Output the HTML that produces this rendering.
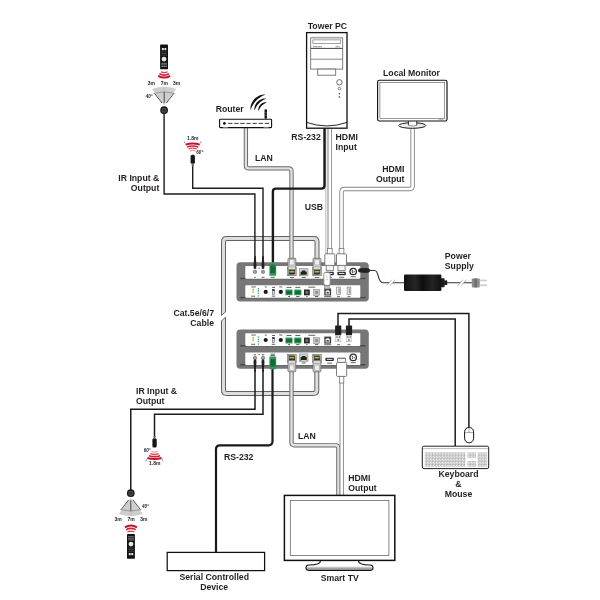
<!DOCTYPE html>
<html><head><meta charset="utf-8"><title>Connection Diagram</title>
<style>
html,body{margin:0;padding:0;background:#fff;}
body{width:600px;height:600px;overflow:hidden;}
svg{display:block;will-change:transform;}
svg text{font-family:"Liberation Sans",sans-serif;font-weight:bold;fill:#231f20;}
</style></head><body>
<svg width="600" height="600" viewBox="0 0 600 600">
<rect width="600" height="600" fill="#fff"/>
<path d="M317.00,264.00 L317.00,241.70 Q317.00,238.50 313.80,238.50 L226.70,238.50 Q223.50,238.50 223.50,241.70 L223.50,390.30 Q223.50,393.50 226.70,393.50 L313.60,393.50 Q316.80,393.50 316.80,390.30 L316.80,368.00" fill="none" stroke="#626262" stroke-width="5.00"/>
<path d="M317.00,264.00 L317.00,241.70 Q317.00,238.50 313.80,238.50 L226.70,238.50 Q223.50,238.50 223.50,241.70 L223.50,390.30 Q223.50,393.50 226.70,393.50 L313.60,393.50 Q316.80,393.50 316.80,390.30 L316.80,368.00" fill="none" stroke="#dedede" stroke-width="3.00"/>
<path d="M219.5,316.9 L228,309.7 L228,315.3 L219.5,322.5 Z" fill="#fff"/>
<path d="M221.2,315.5 L225.9,311.5 M221.2,321.1 L225.9,317.1" stroke="#626262" stroke-width="0.9" fill="none"/>
<path d="M245.90,127.00 L245.90,165.40 Q245.90,168.40 248.90,168.40 L288.50,168.40 Q291.50,168.40 291.50,171.40 L291.50,262.00" fill="none" stroke="#666" stroke-width="4.30"/>
<path d="M245.90,127.00 L245.90,165.40 Q245.90,168.40 248.90,168.40 L288.50,168.40 Q291.50,168.40 291.50,171.40 L291.50,262.00" fill="none" stroke="#e0e0e0" stroke-width="2.40"/>
<path d="M412.60,127.00 L412.60,186.00 Q412.60,189.00 409.60,189.00 L344.50,189.00 Q341.50,189.00 341.50,192.00 L341.50,252.00" fill="none" stroke="#848484" stroke-width="4.40"/>
<path d="M412.60,127.00 L412.60,186.00 Q412.60,189.00 409.60,189.00 L344.50,189.00 Q341.50,189.00 341.50,192.00 L341.50,252.00" fill="none" stroke="#fff" stroke-width="2.60"/>
<path d="M326.90,128.00 L326.90,274.00" fill="none" stroke="#a4a4a4" stroke-width="2.90"/>
<path d="M326.90,128.00 L326.90,274.00" fill="none" stroke="#fff" stroke-width="1.30"/>
<path d="M329.80,128.00 L329.80,252.00" fill="none" stroke="#8c8c8c" stroke-width="4.20"/>
<path d="M329.80,128.00 L329.80,252.00" fill="none" stroke="#fff" stroke-width="2.50"/>
<path d="M324.50,128.00 L324.50,185.60 Q324.50,188.60 321.50,188.60 L275.90,188.60 Q272.90,188.60 272.90,191.60 L272.90,266.00" fill="none" stroke="#1a1a1a" stroke-width="2.40" />
<path d="M164.10,112.00 L164.10,194.00 L254.90,194.00 L254.90,268.00" fill="none" stroke="#1c1c1c" stroke-width="1.40" />
<path d="M192.70,165.00 L192.70,188.30 L263.00,188.30 L263.00,268.00" fill="none" stroke="#1c1c1c" stroke-width="1.40" />
<path d="M255.00,370.00 L255.00,409.30 L130.75,409.30 L130.75,491.00" fill="none" stroke="#1c1c1c" stroke-width="1.50" />
<path d="M263.00,370.00 L263.00,414.30 L154.50,414.30 L154.50,437.00" fill="none" stroke="#1c1c1c" stroke-width="1.50" />
<path d="M272.50,368.00 L272.50,441.30 Q272.50,445.30 268.50,445.30 L220.00,445.30 Q216.00,445.30 216.00,449.30 L216.00,552.00" fill="none" stroke="#1a1a1a" stroke-width="2.20" />
<path d="M291.50,370.00 L291.50,442.30 Q291.50,445.30 294.50,445.30 L335.40,445.30 Q338.40,445.30 338.40,448.30 L338.40,495.00" fill="none" stroke="#666" stroke-width="4.30"/>
<path d="M291.50,370.00 L291.50,442.30 Q291.50,445.30 294.50,445.30 L335.40,445.30 Q338.40,445.30 338.40,448.30 L338.40,495.00" fill="none" stroke="#e0e0e0" stroke-width="2.40"/>
<path d="M341.70,380.00 L341.70,495.00" fill="none" stroke="#848484" stroke-width="4.30"/>
<path d="M341.70,380.00 L341.70,495.00" fill="none" stroke="#fff" stroke-width="2.50"/>
<path d="M338.00,327.00 L338.00,313.50 L468.90,313.50 L468.90,428.00" fill="none" stroke="#1c1c1c" stroke-width="1.50" />
<path d="M349.00,327.00 L349.00,318.90 L455.20,318.90 L455.20,446.00" fill="none" stroke="#1c1c1c" stroke-width="1.50" />
<rect x="236.50" y="262.30" width="132.30" height="39.30" rx="3.8" fill="#777"/>
<rect x="240.2" y="278.30" width="125" height="1.3" fill="#686868"/>
<rect x="240.2" y="277.80" width="5.4" height="1.2" fill="#474747"/><rect x="360" y="277.80" width="5.4" height="1.2" fill="#474747"/>
<rect x="245.3" y="266.10" width="115" height="12.60" rx="0.8" fill="#fff"/>
<rect x="240.2" y="297.40" width="125" height="1.3" fill="#686868"/>
<rect x="240.2" y="296.90" width="5.4" height="1.2" fill="#474747"/><rect x="360" y="296.90" width="5.4" height="1.2" fill="#474747"/>
<rect x="245.3" y="285.20" width="115" height="12.60" rx="0.8" fill="#fff"/>
<circle cx="255.00" cy="271.80" r="1.7" fill="#bdbdbd" stroke="#555" stroke-width="0.6"/>
<circle cx="255.00" cy="271.80" r="0.6" fill="#555"/>
<circle cx="263.00" cy="271.80" r="1.7" fill="#bdbdbd" stroke="#555" stroke-width="0.6"/>
<circle cx="263.00" cy="271.80" r="0.6" fill="#555"/>
<rect x="254.20" y="276.80" width="1.60" height="0.9" fill="#555"/>
<rect x="261.50" y="276.80" width="3.00" height="0.9" fill="#555"/>
<rect x="270.50" y="276.80" width="4.40" height="0.9" fill="#555"/>
<rect x="258.6" y="267.80" width="1" height="1" fill="#333"/>
<rect x="253.80" y="267.90" width="2.40" height="0.9" fill="#555"/>
<rect x="261.80" y="267.90" width="2.40" height="0.9" fill="#555"/>
<rect x="299.40" y="268.50" width="8.60" height="7.40" fill="#cfcfcf" stroke="#777" stroke-width="0.5"/>
<path d="M300.60,274.70 h6.20 v-3 h-1.3 v-1.2 h-3.60 v1.2 h-1.3 z" fill="#222"/>
<rect x="306.20" y="274.40" width="1.3" height="1" fill="#d8a400"/>
<rect x="299.90" y="274.40" width="1.3" height="1" fill="#3a9a5c"/>
<rect x="301.70" y="277.10" width="4.00" height="0.9" fill="#555"/>
<rect x="290.00" y="277.10" width="4.00" height="0.9" fill="#555"/>
<rect x="314.70" y="277.10" width="4.60" height="0.9" fill="#555"/>
<rect x="325.40" y="271.80" width="8.4" height="3.4" rx="0.8" fill="#2a2a2a"/>
<rect x="326.80" y="272.90" width="5.6" height="1.1" fill="#ddd"/>
<rect x="327.10" y="276.80" width="5.00" height="0.9" fill="#555"/>
<rect x="337.40" y="271.80" width="8.4" height="3.4" rx="0.8" fill="#2a2a2a"/>
<rect x="338.80" y="272.90" width="5.6" height="1.1" fill="#ddd"/>
<rect x="339.10" y="276.80" width="5.00" height="0.9" fill="#555"/>
<circle cx="353.2" cy="271.50" r="3.2" fill="#fff" stroke="#2a2a2a" stroke-width="1.3"/>
<circle cx="352.4" cy="270.90" r="0.8" fill="#333"/>
<circle cx="354.2" cy="271.70" r="0.6" fill="#333"/>
<circle cx="352.6" cy="272.70" r="0.6" fill="#333"/>
<rect x="350.70" y="276.30" width="5.00" height="0.9" fill="#555"/>
<rect x="251.25" y="286.50" width="4.50" height="0.9" fill="#555"/>
<rect x="264.80" y="286.50" width="2.00" height="0.9" fill="#555"/>
<rect x="272.00" y="286.90" width="3.00" height="0.9" fill="#555"/>
<rect x="279.30" y="286.50" width="3.00" height="0.9" fill="#555"/>
<circle cx="253.2" cy="289.70" r="0.9" fill="#9db83a"/>
<circle cx="253.2" cy="292.10" r="0.9" fill="#d8b52a"/>
<circle cx="258.4" cy="288.90" r="0.8" fill="#2fa58a"/>
<circle cx="258.4" cy="291.10" r="0.8" fill="#2fa58a"/>
<circle cx="258.4" cy="293.30" r="0.8" fill="#2fa58a"/>
<rect x="251.20" y="295.70" width="4.00" height="0.9" fill="#555"/>
<rect x="257.80" y="295.50" width="1.20" height="0.9" fill="#555"/>
<circle cx="265.7" cy="291.90" r="2.1" fill="#1b1b1b"/>
<rect x="272.4" y="289.30" width="2.2" height="5.2" fill="#ddd" stroke="#444" stroke-width="0.5"/>
<rect x="272.4" y="289.30" width="2.2" height="1.6" fill="#333"/>
<rect x="271.80" y="295.70" width="3.40" height="0.9" fill="#555"/>
<circle cx="280.8" cy="291.90" r="2.1" fill="#1b1b1b"/>
<rect x="285.40" y="289.50" width="7.20" height="5.80" rx="0.6" fill="#2f9a58"/>
<rect x="286.30" y="290.78" width="5.40" height="3.25" fill="#17683a"/>
<rect x="294.20" y="289.50" width="7.20" height="5.80" rx="0.6" fill="#2f9a58"/>
<rect x="295.10" y="290.78" width="5.40" height="3.25" fill="#17683a"/>
<rect x="286.50" y="286.90" width="5.00" height="0.9" fill="#555"/>
<rect x="295.30" y="286.90" width="5.00" height="0.9" fill="#555"/>
<rect x="288.00" y="296.10" width="2.00" height="0.9" fill="#555"/>
<rect x="296.10" y="296.10" width="3.40" height="0.9" fill="#555"/>
<rect x="304" y="289.50" width="5.8" height="5.8" fill="#2a2a2a"/>
<rect x="305.6" y="291.10" width="2.6" height="2.6" fill="#777"/>
<rect x="313.6" y="289.50" width="6" height="5.8" fill="#c8c8c8" stroke="#777" stroke-width="0.5"/>
<rect x="315.3" y="291.10" width="2.6" height="2.6" fill="#8a8a8a"/>
<rect x="308.30" y="286.70" width="7.00" height="0.9" fill="#555"/>
<rect x="306.20" y="296.10" width="1.40" height="0.9" fill="#555"/>
<rect x="314.90" y="296.10" width="3.40" height="0.9" fill="#555"/>
<rect x="324.3" y="288.50" width="6.8" height="7" fill="#3a3a3a"/>
<path d="M325.6,294.50 h4.2 v-3.4 l-0.9,-0.9 h-2.4 l-0.9,0.9 z" fill="#e8e8e8"/>
<rect x="326.6" y="291.90" width="2.2" height="1.6" fill="#444"/>
<rect x="324.20" y="296.20" width="7.00" height="0.9" fill="#555"/>
<rect x="336.70" y="287.10" width="3.8" height="7.4" fill="#ececec" stroke="#777" stroke-width="0.6"/>
<rect x="338.40" y="288.30" width="1.3" height="5" fill="#9a9a9a"/>
<rect x="337.10" y="296.20" width="3.00" height="0.9" fill="#555"/>
<rect x="347.10" y="287.10" width="3.8" height="7.4" fill="#ececec" stroke="#777" stroke-width="0.6"/>
<rect x="348.80" y="288.30" width="1.3" height="5" fill="#9a9a9a"/>
<rect x="347.50" y="296.20" width="3.00" height="0.9" fill="#555"/>
<rect x="236.50" y="329.50" width="132.30" height="39.30" rx="3.8" fill="#777"/>
<rect x="240.2" y="345.50" width="125" height="1.3" fill="#686868"/>
<rect x="240.2" y="345.00" width="5.4" height="1.2" fill="#474747"/><rect x="360" y="345.00" width="5.4" height="1.2" fill="#474747"/>
<rect x="245.3" y="333.30" width="115" height="12.60" rx="0.8" fill="#fff"/>
<rect x="240.2" y="364.60" width="125" height="1.3" fill="#686868"/>
<rect x="240.2" y="364.10" width="5.4" height="1.2" fill="#474747"/><rect x="360" y="364.10" width="5.4" height="1.2" fill="#474747"/>
<rect x="245.3" y="352.40" width="115" height="12.60" rx="0.8" fill="#fff"/>
<rect x="251.25" y="334.60" width="4.50" height="0.9" fill="#555"/>
<rect x="264.80" y="334.60" width="2.00" height="0.9" fill="#555"/>
<rect x="272.00" y="335.00" width="3.00" height="0.9" fill="#555"/>
<rect x="279.30" y="334.60" width="3.00" height="0.9" fill="#555"/>
<circle cx="253.2" cy="337.80" r="0.9" fill="#9db83a"/>
<circle cx="253.2" cy="340.20" r="0.9" fill="#d8b52a"/>
<circle cx="258.4" cy="337.00" r="0.8" fill="#2fa58a"/>
<circle cx="258.4" cy="339.20" r="0.8" fill="#2fa58a"/>
<circle cx="258.4" cy="341.40" r="0.8" fill="#2fa58a"/>
<rect x="251.20" y="343.80" width="4.00" height="0.9" fill="#555"/>
<rect x="257.80" y="343.60" width="1.20" height="0.9" fill="#555"/>
<circle cx="265.7" cy="340.00" r="2.1" fill="#1b1b1b"/>
<rect x="272.4" y="337.40" width="2.2" height="5.2" fill="#ddd" stroke="#444" stroke-width="0.5"/>
<rect x="272.4" y="337.40" width="2.2" height="1.6" fill="#333"/>
<rect x="271.80" y="343.80" width="3.40" height="0.9" fill="#555"/>
<circle cx="280.8" cy="340.00" r="2.1" fill="#1b1b1b"/>
<rect x="285.40" y="337.60" width="7.20" height="5.80" rx="0.6" fill="#2f9a58"/>
<rect x="286.30" y="338.88" width="5.40" height="3.25" fill="#17683a"/>
<rect x="294.20" y="337.60" width="7.20" height="5.80" rx="0.6" fill="#2f9a58"/>
<rect x="295.10" y="338.88" width="5.40" height="3.25" fill="#17683a"/>
<rect x="286.50" y="335.00" width="5.00" height="0.9" fill="#555"/>
<rect x="295.30" y="335.00" width="5.00" height="0.9" fill="#555"/>
<rect x="288.00" y="344.20" width="2.00" height="0.9" fill="#555"/>
<rect x="296.10" y="344.20" width="3.40" height="0.9" fill="#555"/>
<rect x="304" y="337.60" width="5.8" height="5.8" fill="#2a2a2a"/>
<rect x="305.6" y="339.20" width="2.6" height="2.6" fill="#777"/>
<rect x="313.6" y="337.60" width="6" height="5.8" fill="#c8c8c8" stroke="#777" stroke-width="0.5"/>
<rect x="315.3" y="339.20" width="2.6" height="2.6" fill="#8a8a8a"/>
<rect x="308.30" y="334.80" width="7.00" height="0.9" fill="#555"/>
<rect x="306.20" y="344.20" width="1.40" height="0.9" fill="#555"/>
<rect x="314.90" y="344.20" width="3.40" height="0.9" fill="#555"/>
<rect x="324.3" y="336.60" width="6.8" height="7" fill="#3a3a3a"/>
<path d="M325.6,342.60 h4.2 v-3.4 l-0.9,-0.9 h-2.4 l-0.9,0.9 z" fill="#e8e8e8"/>
<rect x="326.6" y="340.00" width="2.2" height="1.6" fill="#444"/>
<rect x="324.20" y="344.30" width="7.00" height="0.9" fill="#555"/>
<rect x="337.10" y="344.30" width="3.00" height="0.9" fill="#555"/>
<rect x="347.50" y="344.30" width="3.00" height="0.9" fill="#555"/>
<circle cx="255.00" cy="357.90" r="1.7" fill="#bdbdbd" stroke="#555" stroke-width="0.6"/>
<circle cx="255.00" cy="357.90" r="0.6" fill="#555"/>
<circle cx="263.00" cy="357.90" r="1.7" fill="#bdbdbd" stroke="#555" stroke-width="0.6"/>
<circle cx="263.00" cy="357.90" r="0.6" fill="#555"/>
<rect x="253.80" y="354.30" width="2.40" height="0.9" fill="#555"/>
<rect x="261.80" y="354.30" width="2.40" height="0.9" fill="#555"/>
<rect x="258.6" y="354.10" width="1" height="1" fill="#333"/>
<rect x="270.50" y="353.70" width="4.40" height="0.9" fill="#555"/>
<rect x="299.40" y="353.90" width="8.60" height="7.40" fill="#cfcfcf" stroke="#777" stroke-width="0.5"/>
<path d="M300.60,360.10 h6.20 v-3 h-1.3 v-1.2 h-3.60 v1.2 h-1.3 z" fill="#222"/>
<rect x="306.20" y="359.80" width="1.3" height="1" fill="#d8a400"/>
<rect x="299.90" y="359.80" width="1.3" height="1" fill="#3a9a5c"/>
<rect x="301.70" y="362.50" width="4.00" height="0.9" fill="#555"/>
<rect x="325.40" y="357.70" width="8.4" height="3.4" rx="0.8" fill="#2a2a2a"/>
<rect x="326.80" y="358.80" width="5.6" height="1.1" fill="#ddd"/>
<rect x="327.10" y="362.70" width="5.00" height="0.9" fill="#555"/>
<rect x="337.40" y="357.70" width="8.4" height="3.4" rx="0.8" fill="#2a2a2a"/>
<rect x="338.80" y="358.80" width="5.6" height="1.1" fill="#ddd"/>
<rect x="339.10" y="362.70" width="5.00" height="0.9" fill="#555"/>
<circle cx="353.2" cy="357.40" r="3.2" fill="#fff" stroke="#2a2a2a" stroke-width="1.3"/>
<circle cx="352.4" cy="356.80" r="0.8" fill="#333"/>
<circle cx="354.2" cy="357.60" r="0.6" fill="#333"/>
<circle cx="352.6" cy="358.60" r="0.6" fill="#333"/>
<rect x="350.70" y="362.20" width="5.00" height="0.9" fill="#555"/>
<path d="M254.30,256 L255.70,256 L256.50,266 L256.10,268.5 L253.90,268.5 L253.50,266 Z" fill="#222"/>
<path d="M262.30,256 L263.70,256 L264.50,266 L264.10,268.5 L261.90,268.5 L261.50,266 Z" fill="#222"/>
<rect x="269.40" y="263.60" width="6.80" height="12.20" rx="0.6" fill="#2f9a58"/>
<rect x="270.30" y="266.28" width="5.00" height="6.83" fill="#17683a"/>
<rect x="270.4" y="264.6" width="4.8" height="1.6" fill="#1f7a40"/>
<rect x="287.60" y="267.50" width="8.6" height="8.2" fill="#b4b4b4" stroke="#6e6e6e" stroke-width="0.6"/>
<rect x="288.80" y="269.90" width="6.2" height="4.6" fill="#2b2b2b"/>
<rect x="289.40" y="270.90" width="5" height="1.7" fill="#c9a93c"/>
<rect x="294.30" y="273.90" width="1.5" height="1.2" fill="#e3c23a"/>
<rect x="288.00" y="273.90" width="1.5" height="1.2" fill="#4aa58a"/>
<rect x="288.00" y="258.30" width="7.8" height="11.4" rx="0.8" fill="#dadada" stroke="#707070" stroke-width="0.9"/>
<rect x="289.70" y="259.60" width="4.4" height="5.4" fill="#efefef" stroke="#8a8a8a" stroke-width="0.5"/>
<path d="M288.70,266.70 h6.4" stroke="#8a8a8a" stroke-width="0.5"/>
<rect x="312.70" y="267.50" width="8.6" height="8.2" fill="#b4b4b4" stroke="#6e6e6e" stroke-width="0.6"/>
<rect x="313.90" y="269.90" width="6.2" height="4.6" fill="#2b2b2b"/>
<rect x="314.50" y="270.90" width="5" height="1.7" fill="#c9a93c"/>
<rect x="319.40" y="273.90" width="1.5" height="1.2" fill="#e3c23a"/>
<rect x="313.10" y="273.90" width="1.5" height="1.2" fill="#4aa58a"/>
<rect x="313.10" y="258.30" width="7.8" height="11.4" rx="0.8" fill="#dadada" stroke="#707070" stroke-width="0.9"/>
<rect x="314.80" y="259.60" width="4.4" height="5.4" fill="#efefef" stroke="#8a8a8a" stroke-width="0.5"/>
<path d="M313.80,266.70 h6.4" stroke="#8a8a8a" stroke-width="0.5"/>
<rect x="327.40" y="248.40" width="4.8" height="6" fill="#fff" stroke="#777" stroke-width="0.8"/>
<rect x="324.80" y="253.80" width="10" height="11.6" rx="1" fill="#fff" stroke="#6e6e6e" stroke-width="0.9"/>
<rect x="326.20" y="265.40" width="7.2" height="5.2" fill="#f4f4f4" stroke="#777" stroke-width="0.8"/>
<rect x="339.10" y="248.40" width="4.8" height="6" fill="#fff" stroke="#777" stroke-width="0.8"/>
<rect x="336.50" y="253.80" width="10" height="11.6" rx="1" fill="#fff" stroke="#6e6e6e" stroke-width="0.9"/>
<rect x="337.90" y="265.40" width="7.2" height="5.2" fill="#f4f4f4" stroke="#777" stroke-width="0.8"/>
<rect x="323.8" y="272.4" width="6.4" height="13" rx="1.8" fill="#fff" stroke="#7a7a7a" stroke-width="0.8"/>
<path d="M327,275 v5 M326,279 l1,1.2 l1,-1.2" stroke="#bbb" stroke-width="0.5" fill="none"/>
<rect x="324.6" y="285.4" width="4.8" height="3.6" fill="#bdbdbd" stroke="#666" stroke-width="0.5"/>
<path d="M358,270.4 Q358,268.6 360,268.3 L366,268 Q369.4,268.2 370.4,270 L370.4,270.9 Q369.4,272.7 366,272.9 L360,272.6 Q358,272.3 358,270.4 Z" fill="#222"/>
<path d="M369,270.5 H374.5 C379.5,270.5 377,282.7 383,282.7 H404 M446,282.7 H472" fill="none" stroke="#333" stroke-width="1.15"/>
<path d="M386.80,285.70 l5,-6 l3.4,0 l-5,6 z" fill="#fff"/>
<path d="M386.80,285.70 l5,-6 M390.20,285.70 l5,-6" stroke="#9a9a9a" stroke-width="0.7" fill="none"/>
<path d="M457.80,285.70 l5,-6 l3.4,0 l-5,6 z" fill="#fff"/>
<path d="M457.80,285.70 l5,-6 M461.20,285.70 l5,-6" stroke="#9a9a9a" stroke-width="0.7" fill="none"/>
<defs><linearGradient id="bk" x1="0" x2="1" y1="0" y2="0"><stop offset="0" stop-color="#111"/><stop offset="0.3" stop-color="#262626"/><stop offset="0.5" stop-color="#0d0d0d"/><stop offset="0.75" stop-color="#242424"/><stop offset="1" stop-color="#111"/></linearGradient></defs>
<rect x="404" y="274.6" width="37.4" height="16.4" rx="1.2" fill="url(#bk)"/>
<rect x="441" y="278.2" width="3.6" height="9" rx="0.8" fill="#1a1a1a"/>
<rect x="444.2" y="280.4" width="3" height="4.6" fill="#1a1a1a"/>
<rect x="471.8" y="278.4" width="8" height="9" rx="0.8" fill="#8c8c8c"/>
<rect x="474.4" y="278.4" width="2.4" height="9" fill="#6e6e6e"/>
<rect x="479.8" y="279.6" width="7.2" height="1.7" fill="#cfcfcf"/>
<rect x="479.8" y="284.4" width="7.2" height="1.7" fill="#cfcfcf"/>
<rect x="335.10" y="325.6" width="6.2" height="9.6" rx="0.6" fill="#1f1f1f"/>
<rect x="335.60" y="335.2" width="5.2" height="6.6" fill="#f2f2f2" stroke="#999" stroke-width="0.4"/>
<rect x="336.40" y="336.4" width="1.2" height="1.2" fill="#333"/><rect x="338.80" y="336.4" width="1.2" height="1.2" fill="#333"/>
<rect x="337.40" y="338.8" width="1.6" height="2.2" fill="#888"/>
<rect x="345.90" y="325.6" width="6.2" height="9.6" rx="0.6" fill="#1f1f1f"/>
<rect x="346.40" y="335.2" width="5.2" height="6.6" fill="#f2f2f2" stroke="#999" stroke-width="0.4"/>
<rect x="347.20" y="336.4" width="1.2" height="1.2" fill="#333"/><rect x="349.60" y="336.4" width="1.2" height="1.2" fill="#333"/>
<rect x="348.20" y="338.8" width="1.6" height="2.2" fill="#888"/>
<path d="M253.90,359.5 L256.10,359.5 L256.50,362 L255.70,372 L254.30,372 L253.50,362 Z" fill="#222"/>
<path d="M261.90,359.5 L264.10,359.5 L264.50,362 L263.70,372 L262.30,372 L261.50,362 Z" fill="#222"/>
<rect x="269.40" y="356.40" width="6.80" height="12.80" rx="0.6" fill="#2f9a58"/>
<rect x="270.30" y="359.22" width="5.00" height="7.17" fill="#17683a"/>
<rect x="270.50" y="355.00" width="4.40" height="0.9" fill="#555"/>
<rect x="287.60" y="354.40" width="8.6" height="8.2" fill="#b4b4b4" stroke="#6e6e6e" stroke-width="0.6"/>
<rect x="288.80" y="355.60" width="6.2" height="4.6" fill="#2b2b2b"/>
<rect x="289.40" y="356.80" width="5" height="1.7" fill="#c9a93c"/>
<rect x="294.30" y="355.00" width="1.5" height="1.2" fill="#e3c23a"/>
<rect x="288.00" y="355.00" width="1.5" height="1.2" fill="#4aa58a"/>
<rect x="288.00" y="360.40" width="7.8" height="11.4" rx="0.8" fill="#dadada" stroke="#707070" stroke-width="0.9"/>
<rect x="289.70" y="365.00" width="4.4" height="5.4" fill="#efefef" stroke="#8a8a8a" stroke-width="0.5"/>
<path d="M288.70,363.40 h6.4" stroke="#8a8a8a" stroke-width="0.5"/>
<rect x="312.70" y="354.40" width="8.6" height="8.2" fill="#b4b4b4" stroke="#6e6e6e" stroke-width="0.6"/>
<rect x="313.90" y="355.60" width="6.2" height="4.6" fill="#2b2b2b"/>
<rect x="314.50" y="356.80" width="5" height="1.7" fill="#c9a93c"/>
<rect x="319.40" y="355.00" width="1.5" height="1.2" fill="#e3c23a"/>
<rect x="313.10" y="355.00" width="1.5" height="1.2" fill="#4aa58a"/>
<rect x="313.10" y="360.40" width="7.8" height="11.4" rx="0.8" fill="#dadada" stroke="#707070" stroke-width="0.9"/>
<rect x="314.80" y="365.00" width="4.4" height="5.4" fill="#efefef" stroke="#8a8a8a" stroke-width="0.5"/>
<path d="M313.80,363.40 h6.4" stroke="#8a8a8a" stroke-width="0.5"/>
<rect x="337.6" y="358.4" width="8" height="4.4" fill="#f4f4f4" stroke="#777" stroke-width="0.8"/>
<rect x="336.5" y="362.4" width="10.2" height="14" rx="1" fill="#fff" stroke="#6e6e6e" stroke-width="0.9"/>
<rect x="339.4" y="376.4" width="4.4" height="6.6" fill="#fff" stroke="#777" stroke-width="0.8"/>
<rect x="306.6" y="32.6" width="40.4" height="95.6" fill="#fff" stroke="#111" stroke-width="1.3"/>
<path d="M306.6,122.4 Q326.8,129.5 347,122.4" fill="none" stroke="#111" stroke-width="0.9"/>
<rect x="310.7" y="37.9" width="32" height="31.2" fill="#fff" stroke="#6a6a6a" stroke-width="0.85"/>
<path d="M310.7,37.2 h32" stroke="#aaa" stroke-width="0.6"/>
<path d="M310.7,48.4 h32" stroke="#3c3c3c" stroke-width="0.95"/>
<path d="M310.7,59.2 h32" stroke="#838383" stroke-width="0.95"/>
<rect x="312.9" y="39.9" width="27.8" height="3.7" fill="#fff" stroke="#777" stroke-width="0.7"/>
<path d="M313.2,46.8 h8.6 M335.6,46.8 h4.6" stroke="#555" stroke-width="0.9" stroke-dasharray="1.1,0.4"/>
<rect x="317.7" y="69.1" width="18" height="6.1" fill="#fff" stroke="#666" stroke-width="0.85"/>
<circle cx="339.4" cy="82.3" r="2.7" fill="#fff" stroke="#333" stroke-width="0.7"/>
<circle cx="339.4" cy="88.6" r="1.3" fill="#fff" stroke="#333" stroke-width="0.6"/>
<circle cx="339.4" cy="93.8" r="0.75" fill="#222"/><circle cx="339.4" cy="97" r="0.75" fill="#222"/>
<ellipse cx="412.3" cy="125.5" rx="13.6" ry="2.8" fill="#ececec" stroke="#1a1a1a" stroke-width="1"/>
<rect x="408.4" y="120" width="8.4" height="5.4" fill="#fff"/>
<path d="M408.4,121 V125.2 M416.8,121 V125.2" stroke="#1a1a1a" stroke-width="0.9"/>
<path d="M408.4,125.4 Q412.6,126.6 416.8,125.4" stroke="#555" stroke-width="0.6" fill="none"/>
<rect x="377.6" y="80.2" width="69.4" height="40.8" rx="1.8" fill="#fff" stroke="#111" stroke-width="1.15"/>
<rect x="379.9" y="82.6" width="64.8" height="35.8" fill="#fff" stroke="#555" stroke-width="0.6"/>
<path d="M438.5,119.6 h5" stroke="#444" stroke-width="0.6" stroke-dasharray="1,0.6"/>
<rect x="219.6" y="119.2" width="52" height="8.4" rx="0.8" fill="#fff" stroke="#111" stroke-width="1.1"/>
<rect x="223" y="127.4" width="5" height="1.2" fill="#bbb"/><rect x="263.6" y="127.4" width="5" height="1.2" fill="#bbb"/>
<circle cx="224.4" cy="123.4" r="1.35" fill="#111"/>
<path d="M228.2,123.4 H270" stroke="#222" stroke-width="0.9" stroke-dasharray="4.2,1.9"/>
<rect x="264.5" y="109.2" width="2.5" height="9.6" rx="0.8" fill="#1a1a1a"/>
<rect x="264.5" y="112.6" width="2.5" height="0.6" fill="#888"/><rect x="264.5" y="115" width="2.5" height="0.6" fill="#888"/>
<path d="M250.40,109.53 L250.41,108.08 L250.58,106.63 L250.90,105.20 L251.37,103.80 L251.99,102.45 L252.75,101.17 L253.63,99.97 L254.63,98.86 L255.72,97.84 L256.91,96.94 L258.18,96.16 L259.51,95.52 L260.90,95.02 L262.33,94.67 L263.77,94.48 L265.22,94.45 L265.27,94.79 L263.97,95.30 L262.72,95.87 L261.52,96.50 L260.37,97.19 L259.27,97.93 L258.22,98.72 L257.21,99.57 L256.27,100.47 L255.38,101.43 L254.55,102.45 L253.77,103.52 L253.06,104.63 L252.39,105.79 L251.78,107.00 L251.23,108.26 L250.74,109.57 Z" fill="#111"/>
<path d="M254.38,110.09 L254.35,108.96 L254.45,107.83 L254.68,106.70 L255.04,105.61 L255.51,104.55 L256.09,103.54 L256.77,102.60 L257.55,101.73 L258.41,100.94 L259.34,100.24 L260.33,99.64 L261.38,99.15 L262.47,98.78 L263.59,98.53 L264.72,98.41 L265.85,98.41 L265.90,98.72 L264.90,99.15 L263.95,99.62 L263.04,100.13 L262.16,100.67 L261.33,101.25 L260.53,101.86 L259.77,102.51 L259.05,103.20 L258.37,103.94 L257.73,104.71 L257.13,105.52 L256.57,106.36 L256.04,107.24 L255.55,108.16 L255.10,109.13 L254.69,110.13 Z" fill="#111"/>
<path d="M258.26,110.63 L258.21,109.82 L258.26,109.00 L258.40,108.18 L258.64,107.39 L258.97,106.62 L259.39,105.88 L259.88,105.20 L260.44,104.57 L261.06,104.00 L261.73,103.49 L262.46,103.07 L263.22,102.72 L264.02,102.47 L264.83,102.31 L265.65,102.25 L266.46,102.29 L266.50,102.55 L265.80,102.89 L265.14,103.25 L264.50,103.63 L263.89,104.03 L263.31,104.45 L262.76,104.89 L262.23,105.35 L261.72,105.83 L261.25,106.35 L260.80,106.88 L260.37,107.45 L259.96,108.03 L259.57,108.65 L259.20,109.29 L258.85,109.96 L258.53,110.67 Z" fill="#111"/>
<rect x="160.10" y="44.40" width="7.9" height="24.9" rx="0.9" fill="#121212"/>
<rect x="161.90" y="48.00" width="1.9" height="2.2" fill="#e2e2e2"/><rect x="164.40" y="48.00" width="1.9" height="2.2" fill="#e2e2e2"/>
<path d="M161.60,51.80 h5" stroke="#555" stroke-width="0.9" stroke-dasharray="1.2,0.7"/>
<path d="M161.60,53.60 h5" stroke="#555" stroke-width="0.9" stroke-dasharray="1.2,0.7"/>
<path d="M161.60,55.30 h5" stroke="#555" stroke-width="0.9" stroke-dasharray="1.2,0.7"/>
<rect x="162.70" y="53.10" width="1" height="0.9" fill="#3a8a5a"/><rect x="164.70" y="53.10" width="1" height="0.9" fill="#a33"/>
<circle cx="164.05" cy="59.10" r="2.45" fill="#e6e6e6"/>
<path d="M161.50,63.30 h5.2" stroke="#b0b0b0" stroke-width="0.95" stroke-dasharray="1.3,0.65"/>
<path d="M161.50,64.90 h5.2" stroke="#b0b0b0" stroke-width="0.95" stroke-dasharray="1.3,0.65"/>
<path d="M161.50,66.50 h5.2" stroke="#b0b0b0" stroke-width="0.95" stroke-dasharray="1.3,0.65"/>
<path d="M160.80,71.80 Q164.20,73.60 167.60,71.80" fill="none" stroke="#dc3a4c" stroke-width="1.30"/>
<path d="M159.50,73.77 Q164.20,76.34 168.90,73.77" fill="none" stroke="#d22238" stroke-width="1.70"/>
<path d="M158.20,75.90 Q164.20,79.30 170.20,75.90" fill="none" stroke="#c4102a" stroke-width="2.00"/>
<path d="M164.20,105.20 L152.10,88.90 Q164.20,84.80 176.30,88.90 Z" fill="#cecece"/>
<path d="M162.00,103.00 L154.40,93.20 M166.40,103.00 L174.00,93.20 M164.20,102.60 L164.20,91.80" stroke="#3c3c3c" stroke-width="0.9" fill="none"/>
<path d="M153.60,93.40 Q164.20,90.40 174.80,93.40" stroke="#777" stroke-width="0.6" fill="none"/>
<path d="M164.20,91.80 L164.20,87.00" stroke="#aaa" stroke-width="0.5" fill="none"/>
<circle cx="164.1" cy="110.2" r="3.2" fill="#4c4c4c" stroke="#161616" stroke-width="1.3"/>
<circle cx="164.1" cy="110.2" r="1.3" fill="#2a2a2a"/>
<text x="151.30" y="84.70" text-anchor="middle" font-size="5.00" >3m</text>
<text x="164.30" y="84.70" text-anchor="middle" font-size="5.00" >7m</text>
<text x="176.70" y="84.70" text-anchor="middle" font-size="5.00" >3m</text>
<text x="149.20" y="98.20" text-anchor="middle" font-size="4.60" font-style="italic">40°</text>
<path d="M189.70,151.08 Q192.70,149.72 195.70,151.08" fill="none" stroke="#e8808c" stroke-width="1.00"/>
<path d="M188.50,148.99 Q192.70,147.41 196.90,148.99" fill="none" stroke="#dc4a5a" stroke-width="1.30"/>
<path d="M187.10,146.90 Q192.70,145.10 198.30,146.90" fill="none" stroke="#d02238" stroke-width="1.60"/>
<path d="M185.60,144.62 Q192.70,142.58 199.80,144.62" fill="none" stroke="#c4102a" stroke-width="2.00"/>
<path d="M185.10,143.40 L184.10,141.40 M200.30,143.40 L201.30,141.40" stroke="#333" stroke-width="0.55"/>
<rect x="190.6" y="154.8" width="4.3" height="9" rx="1.5" fill="#151515"/>
<rect x="191.7" y="163.6" width="2" height="3" fill="#666"/>
<text x="192.80" y="139.80" text-anchor="middle" font-size="5.00" >1.8m</text>
<text x="199.80" y="153.90" text-anchor="middle" font-size="4.60" font-style="italic">60°</text>
<circle cx="130.8" cy="493.2" r="3.2" fill="#4c4c4c" stroke="#161616" stroke-width="1.3"/>
<circle cx="130.8" cy="493.2" r="1.3" fill="#2a2a2a"/>
<path d="M130.80,497.80 L118.70,514.10 Q130.80,518.20 142.90,514.10 Z" fill="#cecece"/>
<path d="M128.60,500.00 L121.00,509.80 M133.00,500.00 L140.60,509.80 M130.80,500.40 L130.80,511.20" stroke="#3c3c3c" stroke-width="0.9" fill="none"/>
<path d="M120.20,509.60 Q130.80,512.60 141.40,509.60" stroke="#777" stroke-width="0.6" fill="none"/>
<path d="M130.80,511.20 L130.80,516.00" stroke="#aaa" stroke-width="0.5" fill="none"/>
<text x="145.40" y="507.60" text-anchor="middle" font-size="4.60" font-style="italic">40°</text>
<text x="118.20" y="521.30" text-anchor="middle" font-size="5.00" >3m</text>
<text x="131.20" y="521.30" text-anchor="middle" font-size="5.00" >7m</text>
<text x="143.80" y="521.30" text-anchor="middle" font-size="5.00" >3m</text>
<path d="M127.50,532.00 Q130.90,530.20 134.30,532.00" fill="none" stroke="#dc3a4c" stroke-width="1.30"/>
<path d="M126.20,529.74 Q130.90,527.18 135.60,529.74" fill="none" stroke="#d22238" stroke-width="1.70"/>
<path d="M124.90,527.30 Q130.90,523.90 136.90,527.30" fill="none" stroke="#c4102a" stroke-width="2.00"/>
<rect x="127.00" y="533.90" width="7.9" height="24.9" rx="0.9" fill="#121212"/>
<rect x="128.80" y="553.00" width="1.9" height="2.2" fill="#e2e2e2"/><rect x="131.30" y="553.00" width="1.9" height="2.2" fill="#e2e2e2"/>
<path d="M128.50,551.40 h5" stroke="#555" stroke-width="0.9" stroke-dasharray="1.2,0.7"/>
<path d="M128.50,549.60 h5" stroke="#555" stroke-width="0.9" stroke-dasharray="1.2,0.7"/>
<path d="M128.50,547.90 h5" stroke="#555" stroke-width="0.9" stroke-dasharray="1.2,0.7"/>
<rect x="129.60" y="549.20" width="1" height="0.9" fill="#3a8a5a"/><rect x="131.60" y="549.20" width="1" height="0.9" fill="#a33"/>
<circle cx="130.95" cy="544.10" r="2.45" fill="#e6e6e6"/>
<path d="M128.40,539.90 h5.2" stroke="#b0b0b0" stroke-width="0.95" stroke-dasharray="1.3,0.65"/>
<path d="M128.40,538.30 h5.2" stroke="#b0b0b0" stroke-width="0.95" stroke-dasharray="1.3,0.65"/>
<path d="M128.40,536.70 h5.2" stroke="#b0b0b0" stroke-width="0.95" stroke-dasharray="1.3,0.65"/>
<rect x="152.4" y="438.3" width="4.3" height="9.3" rx="1.5" fill="#151515"/>
<rect x="153.5" y="436" width="2" height="3" fill="#666"/>
<path d="M151.50,451.52 Q154.50,452.88 157.50,451.52" fill="none" stroke="#e8808c" stroke-width="1.00"/>
<path d="M150.30,453.61 Q154.50,455.19 158.70,453.61" fill="none" stroke="#dc4a5a" stroke-width="1.30"/>
<path d="M148.90,455.70 Q154.50,457.50 160.10,455.70" fill="none" stroke="#d02238" stroke-width="1.60"/>
<path d="M147.40,457.98 Q154.50,460.02 161.60,457.98" fill="none" stroke="#c4102a" stroke-width="2.00"/>
<path d="M146.90,459.20 L145.90,461.20 M162.10,459.20 L163.10,461.20" stroke="#333" stroke-width="0.55"/>
<text x="147.20" y="451.80" text-anchor="middle" font-size="4.60" font-style="italic">60°</text>
<text x="154.80" y="464.60" text-anchor="middle" font-size="5.00" >1.8m</text>
<rect x="167.2" y="552.4" width="97.4" height="18.2" fill="#fff" stroke="#111" stroke-width="1.25"/>
<defs><linearGradient id="tvb" x1="0" x2="0" y1="0" y2="1"><stop offset="0" stop-color="#e0e0e0"/><stop offset="1" stop-color="#7a7a7a"/></linearGradient></defs>
<path d="M320.6,560.4 C320.6,564 316,565 309,565 Q306,565 306,567.8 Q306,570.4 309,570.4 H370 Q373,570.4 373,567.8 Q373,565 370,565 C363,565 358.4,564 358.4,560.4 Z" fill="#fff" stroke="#111" stroke-width="1.1"/>
<path d="M309,566.6 H370 Q372,566.6 372,568 Q372,569.8 370,569.8 H309 Q307,569.8 307,568 Q307,566.6 309,566.6 Z" fill="url(#tvb)"/>
<rect x="284.4" y="495.4" width="110.4" height="65" fill="#fff" stroke="#111" stroke-width="1.5"/>
<rect x="290.3" y="500.4" width="98.6" height="55.2" fill="#fff" stroke="#555" stroke-width="0.7"/>
<rect x="422.3" y="446.2" width="66.4" height="22.4" rx="1.6" fill="#fff" stroke="#111" stroke-width="0.95"/>
<path d="M422.8,448.6 H488.2" stroke="#777" stroke-width="0.5"/>
<defs><pattern id="keys" width="2.9" height="2.9" patternUnits="userSpaceOnUse"><rect x="0.3" y="0.3" width="2.3" height="2.3" fill="#fff" stroke="#8a8a8a" stroke-width="0.45"/></pattern></defs>
<rect x="424.8" y="452.4" width="40.6" height="14.5" fill="url(#keys)"/>
<rect x="467.4" y="452.4" width="8.7" height="5.8" fill="url(#keys)" />
<rect x="467.4" y="461.1" width="8.7" height="5.8" fill="url(#keys)" />
<rect x="477.6" y="452.4" width="9.6" height="14.5" fill="url(#keys)" />
<rect x="464.6" y="427.4" width="9" height="15.4" rx="4.4" fill="#fff" stroke="#111" stroke-width="1"/>
<path d="M464.6,432.6 H473.6 M469.1,427.4 V432.6" stroke="#555" stroke-width="0.5"/>
<text x="327.40" y="28.60" text-anchor="middle" font-size="8.70" >Tower PC</text>
<text x="411.50" y="76.40" text-anchor="middle" font-size="8.70" >Local Monitor</text>
<text x="215.70" y="111.70" text-anchor="start" font-size="8.70" >Router</text>
<text x="255.00" y="161.00" text-anchor="start" font-size="8.70" >LAN</text>
<text x="320.80" y="139.90" text-anchor="end" font-size="8.70" >RS-232</text>
<text x="335.60" y="139.90" text-anchor="start" font-size="8.70" >HDMI</text>
<text x="335.60" y="150.10" text-anchor="start" font-size="8.70" >Input</text>
<text x="404.40" y="172.10" text-anchor="end" font-size="8.70" >HDMI</text>
<text x="404.40" y="182.40" text-anchor="end" font-size="8.70" >Output</text>
<text x="304.80" y="210.20" text-anchor="start" font-size="8.70" >USB</text>
<text x="159.30" y="180.50" text-anchor="end" font-size="8.70" >IR Input &amp;</text>
<text x="159.30" y="190.60" text-anchor="end" font-size="8.70" >Output</text>
<text x="214.00" y="315.70" text-anchor="end" font-size="8.70" >Cat.5e/6/7</text>
<text x="214.00" y="325.90" text-anchor="end" font-size="8.70" >Cable</text>
<text x="444.80" y="258.70" text-anchor="start" font-size="8.70" >Power</text>
<text x="444.80" y="268.70" text-anchor="start" font-size="8.70" >Supply</text>
<text x="136.00" y="393.90" text-anchor="start" font-size="8.70" >IR Input &amp;</text>
<text x="136.00" y="404.10" text-anchor="start" font-size="8.70" >Output</text>
<text x="224.00" y="460.10" text-anchor="start" font-size="8.70" >RS-232</text>
<text x="298.00" y="438.70" text-anchor="start" font-size="8.70" >LAN</text>
<text x="348.20" y="481.30" text-anchor="start" font-size="8.70" >HDMI</text>
<text x="348.20" y="491.20" text-anchor="start" font-size="8.70" >Output</text>
<text x="339.70" y="580.50" text-anchor="middle" font-size="8.70" >Smart TV</text>
<text x="214.20" y="580.10" text-anchor="middle" font-size="8.70" >Serial Controlled</text>
<text x="214.20" y="590.20" text-anchor="middle" font-size="8.70" >Device</text>
<text x="458.50" y="476.80" text-anchor="middle" font-size="8.70" >Keyboard</text>
<text x="458.50" y="486.80" text-anchor="middle" font-size="8.70" >&amp;</text>
<text x="458.50" y="497.00" text-anchor="middle" font-size="8.70" >Mouse</text>
</svg>
</body></html>
